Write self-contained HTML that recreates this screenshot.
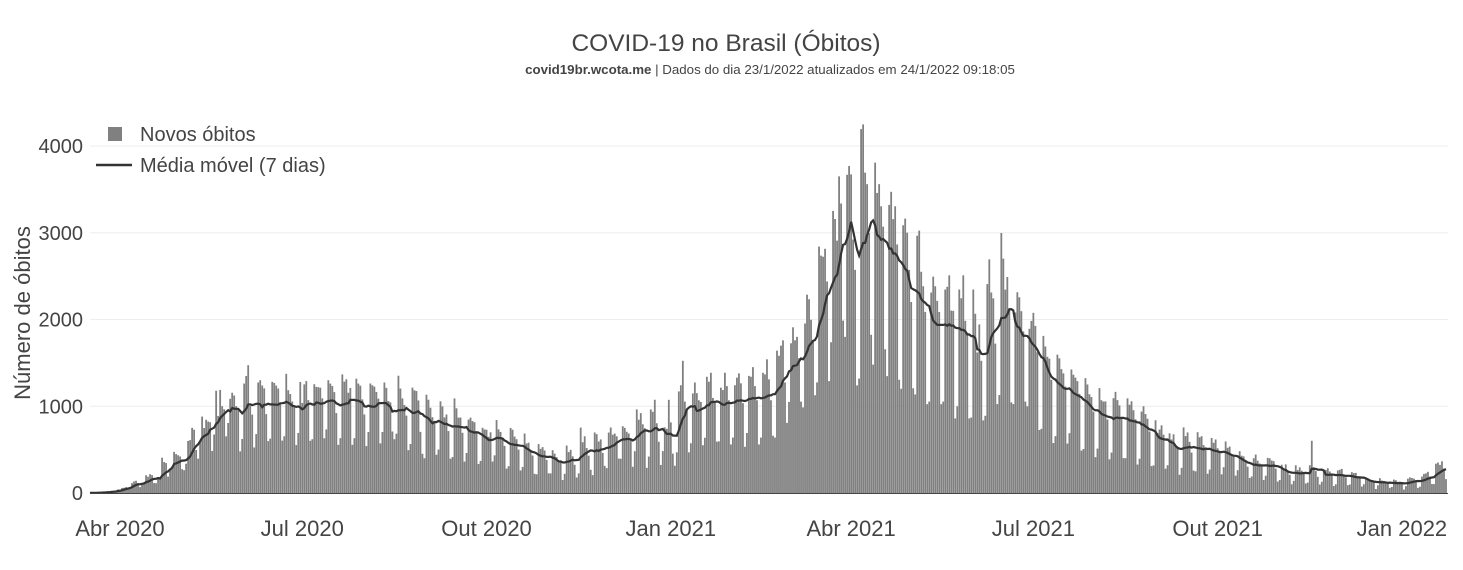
<!DOCTYPE html>
<html><head><meta charset="utf-8">
<style>
body{margin:0;background:#fff;font-family:"Liberation Sans",sans-serif}
svg text{font-family:"Liberation Sans",sans-serif}
</style></head>
<body>
<svg id="chart" width="1463" height="565" xmlns="http://www.w3.org/2000/svg">
<text x="726" y="51" text-anchor="middle" font-size="24.5" fill="#444">COVID-19 no Brasil (Óbitos)</text>
<text x="770" y="74" text-anchor="middle" font-size="13.3" fill="#444"><tspan font-weight="bold">covid19br.wcota.me</tspan> | Dados do dia 23/1/2022 atualizados em 24/1/2022 09:18:05</text>
<g id="grid"></g>
<g id="bars"></g>
<path id="ma" fill="none" stroke="#333" stroke-width="2.2"/>
<line x1="90" x2="1448" y1="493.5" y2="493.5" stroke="#444" stroke-width="1"/>
<g id="yticks"></g>
<g id="xticks"></g>
<text transform="translate(30,313) rotate(-90)" text-anchor="middle" font-size="22" fill="#444">Número de óbitos</text>
<g>
<rect x="108" y="127" width="14" height="14" fill="#808080"/>
<text x="140" y="141" font-size="20" fill="#444">Novos óbitos</text>
<line x1="96" x2="132" y1="165" y2="165" stroke="#333" stroke-width="2.5"/>
<text x="140" y="172" font-size="20" fill="#444">Média móvel (7 dias)</text>
</g>
</svg>
<script>
const yTicks=[0,1000,2000,3000,4000];
const xTickLabels=["Abr 2020","Jul 2020","Out 2020","Jan 2021","Abr 2021","Jul 2021","Out 2021","Jan 2022"];
const xTickDayIdx=[15,106,198,290,380,471,563,655];
const deaths=[
1,3,2,5,4,7,9, 12,11,18,15,19,22,25, 42,40,58,60,68,60,70, 114,133,141,115,68,99,105,
204,188,217,206,115,113,166, 165,407,357,346,189,275,296, 474,449,435,421,275,263,338,
600,610,751,730,496,396,588, 881,749,844,824,816,485,674, 1179,888,1188,1001,965,653,807,
1086,1156,1124,1001,965,480,623, 1262,1349,1473,1005,904,525,679, 1274,1300,1239,1206,909,598,627,
1282,1269,1238,1204,1022,604,654, 1374,1185,1141,1055,990,552,692, 1280,1038,1252,1290,1071,602,620,
1254,1223,1220,1214,1091,631,733, 1300,1261,1233,1163,921,555,632, 1367,1284,1311,1156,1211,555,632,
1318,1261,1237,1079,905,541,703, 1262,1242,1226,1165,1088,572,703, 1274,1212,1060,1045,709,620,684,
1352,1204,1090,1015,892,494,565, 1215,1184,1175,1067,705,452,401, 1133,1075,983,874,814,441,501,
1057,998,871,905,714,395,415, 1090,976,869,870,694,362,461, 846,869,829,816,714,335,370,
752,733,729,648,700,363,434, 841,734,703,621,543,281,309, 750,730,650,620,500,260,300,
686,571,580,489,432,221,216, 564,509,529,490,382,227,226, 494,454,413,361,368,150,221,
547,472,498,423,325,179,226, 754,585,654,519,430,268,206, 698,678,594,618,463,313,287,
697,755,672,685,653,397,395, 770,751,706,686,625,302,482, 964,845,921,792,747,290,420,
963,936,1075,804,591,323,483, 756,739,1074,814,454,314,469, 1171,1242,1524,1054,961,469,573,
1148,1274,1151,1069,1050,551,637, 1340,1283,1386,1096,1056,592,595, 1214,1187,1386,1232,1069,560,639,
1242,1330,1379,1264,1036,533,692, 1350,1340,1451,1232,1069,560,639, 1386,1367,1541,1310,1069,660,639,
1641,1582,1699,1760,1275,808,1050, 1726,1910,1760,1800,1555,1054,987, 1954,2286,2233,1997,1760,1127,1275,
2841,2736,2724,2815,2438,1290,1738, 3251,3158,2909,3650,3337,1987,1800, 3668,3769,3673,2922,2572,1240,1319,
4195,4249,3693,3560,2997,1824,1480, 3808,3459,3560,3305,3070,1657,1347, 3321,3472,3157,3305,2865,1305,1202,
3086,3163,3001,2572,2202,1207,1136, 2966,3025,2550,2383,2087,1024,1054, 2311,2494,2383,2215,2087,1024,1054,
2346,2377,2509,2103,2100,860,1000, 2346,2245,2509,1985,1847,860,870, 2346,2066,1620,1943,1524,837,890,
2408,2693,2311,2244,1722,1025,1129, 2997,2702,2344,2490,2131,1045,1025, 2081,2314,2256,2096,1863,1054,1000,
1893,1984,2077,1926,1622,726,740, 1811,1689,1570,1548,1304,576,655, 1595,1552,1428,1379,1227,570,689,
1424,1363,1330,1290,1143,489,507, 1324,1251,1138,1106,938,413,512, 1209,1069,1054,1056,848,388,466,
1093,1166,1071,1010,864,402,402, 1091,1017,1057,954,849,328,395, 939,1000,910,856,709,310,318,
839,692,731,780,672,280,320, 688,617,677,543,522,210,290, 756,656,698,590,466,259,250,
701,642,655,552,527,222,270, 634,579,617,516,472,215,297, 594,521,535,431,420,200,263,
482,430,422,359,303,173,190, 401,443,372,340,320,150,199, 405,400,375,367,281,132,150,
326,277,330,250,210,101,140, 319,265,296,257,237,110,120, 320,602,298,253,186,98,130,
252,266,285,248,212,80,100, 261,268,278,211,180,90,98, 240,230,232,194,174,75,101,
170,159,136,149,132,46,89, 171,144,139,129,109,60,70, 155,147,128,131,106,40,79,
165,180,173,166,147,59,72, 190,220,227,244,190,104,103, 338,351,324,365,282,160
];
const NS="http://www.w3.org/2000/svg";
const px=2.003;
function xs(i){return 120+(i-15)*px;}
function ys(v){return 493-v*347/4000;}
function mk(t,a,p){const e=document.createElementNS(NS,t);for(const k in a)e.setAttribute(k,a[k]);p.appendChild(e);return e;}
const grid=document.getElementById('grid'),yt=document.getElementById('yticks'),xt=document.getElementById('xticks'),bars=document.getElementById('bars');
yTicks.forEach(v=>{
  if(v>0){const l=mk('line',{x1:90,x2:1448,y1:ys(v),y2:ys(v),stroke:'#eee'},grid);
  
  }
  const t=mk('text',{x:83,y:ys(v)+7,'text-anchor':'end','font-size':20,fill:'#444'},yt);
  t.textContent=v;
  
  
});
xTickLabels.forEach((s,k)=>{
  const t=mk('text',{x:xs(xTickDayIdx[k]),y:536,'text-anchor':'middle','font-size':22,fill:'#444'},xt);
  t.textContent=s;
  
  
});
deaths.forEach((v,i)=>{
  const r=mk('rect',{x:xs(i)-0.9,y:ys(v),width:1.8,height:493-ys(v),fill:'#808080'},bars);
  
  
});
let d='';
deaths.forEach((v,i)=>{
  const s=deaths.slice(Math.max(0,i-6),i+1);
  const m=s.reduce((a,b)=>a+b,0)/s.length;
  d+=(i?'L':'M')+xs(i).toFixed(1)+','+ys(m).toFixed(1);
});
document.getElementById('ma').setAttribute('d',d);
</script>
</body></html>
